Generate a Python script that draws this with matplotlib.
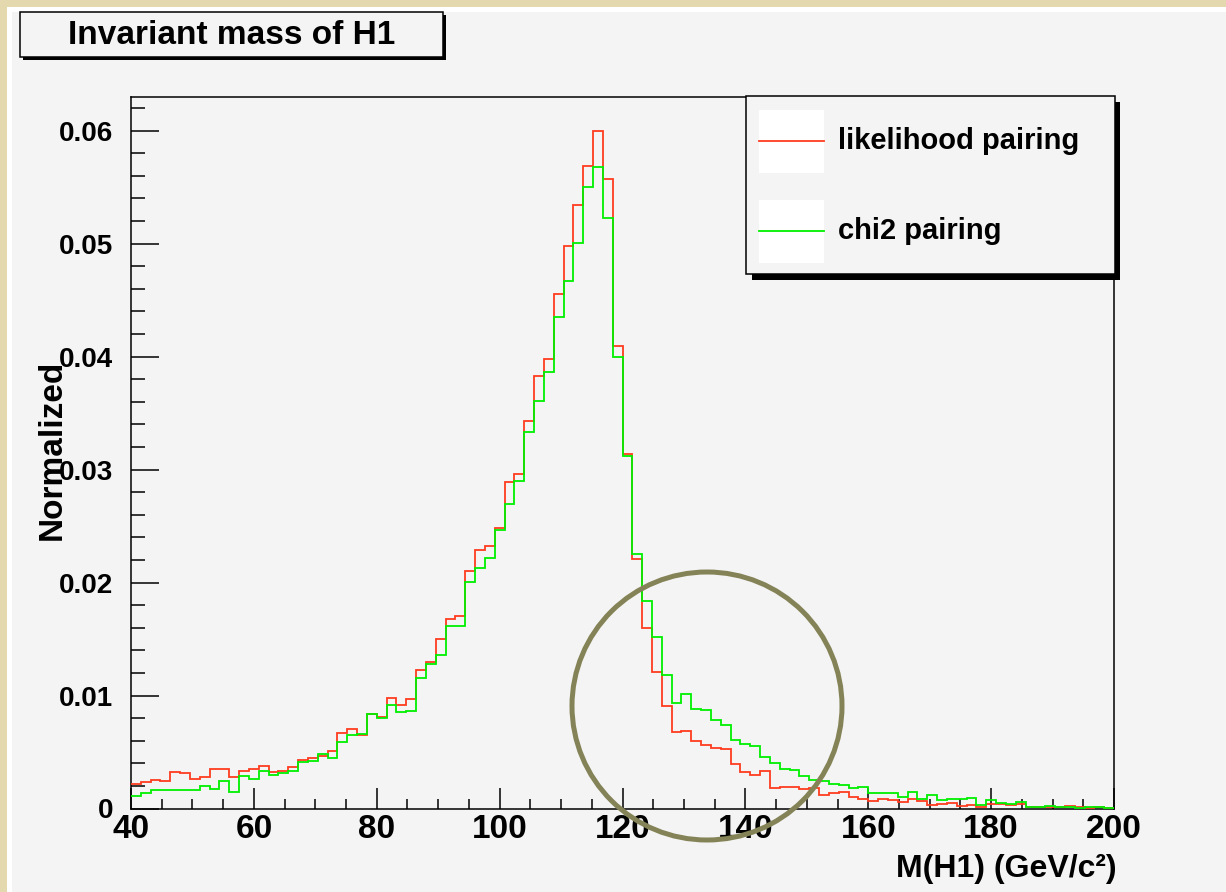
import matplotlib
matplotlib.use("Agg")
import matplotlib.pyplot as plt
import numpy as np
from matplotlib.patches import Rectangle, Ellipse
from matplotlib.ticker import MultipleLocator

# histogram binning: 100 bins over 40-200 GeV/c^2
X_MIN, X_MAX, N_BINS = 40.0, 200.0, 100

likelihood_pairing = [
    0.00218, 0.00238, 0.00250, 0.00240, 0.00324, 0.00312, 0.00262, 0.00282, 0.00353, 0.00347,
    0.00280, 0.00335, 0.00350, 0.00374, 0.00320, 0.00335, 0.00370, 0.00426, 0.00450, 0.00468,
    0.00510, 0.00668, 0.00700, 0.00653, 0.00832, 0.00810, 0.00976, 0.00916, 0.00966, 0.01226,
    0.01299, 0.01500, 0.01677, 0.01706, 0.02102, 0.02285, 0.02326, 0.02485, 0.02892, 0.02957,
    0.03432, 0.03827, 0.03980, 0.04556, 0.04978, 0.05341, 0.05683, 0.05998, 0.05571, 0.04093,
    0.03134, 0.02205, 0.01594, 0.01205, 0.00907, 0.00674, 0.00686, 0.00600, 0.00559, 0.00533,
    0.00524, 0.00391, 0.00320, 0.00299, 0.00332, 0.00184, 0.00190, 0.00187, 0.00170, 0.00179,
    0.00117, 0.00134, 0.00143, 0.00104, 0.00087, 0.00062, 0.00087, 0.00072, 0.00059, 0.00083,
    0.00065, 0.00030, 0.00044, 0.00050, 0.00021, 0.00027, 0.00012, 0.00044, 0.00038, 0.00032,
    0.00038, 0.00009, 0.00012, 0.00009, 0.00015, 0.00021, 0.00009, 0.00006, 0.00009, 0.00006,
]

chi2_pairing = [
    0.00112, 0.00138, 0.00162, 0.00162, 0.00162, 0.00162, 0.00162, 0.00200, 0.00170, 0.00247,
    0.00150, 0.00288, 0.00265, 0.00332, 0.00294, 0.00315, 0.00332, 0.00409, 0.00424, 0.00482,
    0.00450, 0.00585, 0.00647, 0.00656, 0.00832, 0.00800, 0.00918, 0.00854, 0.00860, 0.01158,
    0.01276, 0.01358, 0.01615, 0.01615, 0.02007, 0.02125, 0.02217, 0.02465, 0.02692, 0.02901,
    0.03332, 0.03606, 0.03866, 0.04350, 0.04671, 0.05002, 0.05503, 0.05674, 0.05223, 0.03993,
    0.03120, 0.02250, 0.01834, 0.01515, 0.01181, 0.00936, 0.01013, 0.00883, 0.00872, 0.00780,
    0.00736, 0.00606, 0.00571, 0.00556, 0.00456, 0.00400, 0.00350, 0.00338, 0.00288, 0.00252,
    0.00241, 0.00220, 0.00208, 0.00179, 0.00190, 0.00140, 0.00141, 0.00136, 0.00103, 0.00147,
    0.00088, 0.00118, 0.00071, 0.00080, 0.00080, 0.00091, 0.00030, 0.00074, 0.00050, 0.00038,
    0.00059, 0.00015, 0.00015, 0.00018, 0.00012, 0.00009, 0.00006, 0.00009, 0.00012, 0.00006,
]

series_labels = ["likelihood pairing", "chi2 pairing"]
series_colors = ["#ff3b1f", "#00f000"]

x_ticks = [40, 60, 80, 100, 120, 140, 160, 180, 200]
y_ticks = [0.0, 0.01, 0.02, 0.03, 0.04, 0.05, 0.06]
y_tick_labels = ["0", "0.01", "0.02", "0.03", "0.04", "0.05", "0.06"]

W, H = 1226, 892
BG = "#f4f4f4"
FONT = "Liberation Sans"

plt.rcParams["font.family"] = [FONT, "DejaVu Sans"]
plt.rcParams["font.weight"] = "bold"


def fx(x):
    return x / W


def fy(y):
    return 1.0 - y / H


def box(fig, x0, y0, x1, y1, **kw):
    # rectangle given in pixel coords measured from the top-left corner
    r = Rectangle((fx(x0), fy(y1)), fx(x1) - fx(x0), fy(y0) - fy(y1),
                  transform=fig.transFigure, **kw)
    fig.add_artist(r)
    return r


fig = plt.figure(figsize=(W / 100, H / 100), dpi=100)
fig.patch.set_facecolor("#e4d8ae")
box(fig, 7, 7, W + 5, H + 5, facecolor="white", edgecolor="none", zorder=-20)
box(fig, 12, 12, W + 5, H + 5, facecolor=BG, edgecolor="none", zorder=-19)

ax = fig.add_axes([fx(131), fy(808.5), fx(1114) - fx(131), fy(96.7) - fy(808.5)])
ax.set_facecolor(BG)

edges = np.linspace(X_MIN, X_MAX, N_BINS + 1)
ax.stairs(likelihood_pairing, edges, baseline=None, color=series_colors[0], lw=1.3, zorder=3)
ax.stairs(chi2_pairing, edges, baseline=None, color=series_colors[1], lw=1.3, zorder=4)

ax.set_xlim(X_MIN, X_MAX)
ax.set_ylim(0, 0.063)
ax.set_xticks(x_ticks)
ax.xaxis.set_minor_locator(MultipleLocator(5))
ax.set_yticks(y_ticks)
ax.set_yticklabels(y_tick_labels)
ax.yaxis.set_minor_locator(MultipleLocator(0.002))
ax.tick_params(which="both", direction="in", top=False, right=False, width=1.1, color="black")
ax.tick_params(axis="x", which="major", length=15, pad=4, labelsize=24)
ax.tick_params(axis="x", which="minor", length=7.5)
ax.tick_params(axis="y", which="major", length=20, pad=13, labelsize=20)
ax.tick_params(axis="y", which="minor", length=10)
for lab in ax.get_xticklabels() + ax.get_yticklabels():
    lab.set_fontweight("bold")
for sp in ax.spines.values():
    sp.set_linewidth(1.1)

# axis titles, ROOT style placement
fig.text(fx(52), fy(450), "Normalized", rotation=90, ha="center", va="center",
         fontsize=24, fontweight="bold")
fig.text(fx(1117), fy(877), "M(H1) (GeV/c²)", ha="right", va="baseline",
         fontsize=23, fontweight="bold")

# title box with shadow
box(fig, 23, 15, 446, 60, facecolor="black", edgecolor="none", zorder=5)
box(fig, 20, 12, 443, 57, facecolor=BG, edgecolor="black", lw=1.1, zorder=6)
fig.text(fx(231.5), fy(35), "Invariant mass of H1", ha="center", va="center",
         fontsize=24, fontweight="bold", zorder=7)

# legend box with shadow
box(fig, 752, 102, 1120, 280, facecolor="black", edgecolor="none", zorder=5)
box(fig, 746, 96, 1115, 274, facecolor=BG, edgecolor="black", lw=1.1, zorder=6)
for i, (label, color) in enumerate(zip(series_labels, series_colors)):
    yc = 141 + 90 * i
    box(fig, 759, yc - 31, 824, yc + 32, facecolor="white", edgecolor="none", zorder=7)
    fig.add_artist(plt.Line2D([fx(759), fx(824)], [fy(yc), fy(yc)], color=color, lw=1.3,
                              transform=fig.transFigure, zorder=8))
    fig.text(fx(838), fy(yc), label, ha="left", va="center", fontsize=21,
             fontweight="bold", zorder=8)

# highlighted tail region
fig.add_artist(Ellipse((fx(707), fy(706)), fx(270), 268 / H, transform=fig.transFigure,
                       fill=False, edgecolor="#848357", lw=3.6, zorder=10))

fig.savefig("out.png", dpi=100, facecolor=fig.get_facecolor())
